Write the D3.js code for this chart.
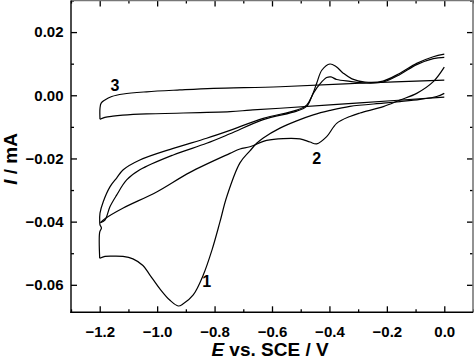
<!DOCTYPE html>
<html>
<head>
<meta charset="utf-8">
<script src="https://cdn.jsdelivr.net/npm/d3@7"></script>
<style>
  html, body { margin: 0; padding: 0; background: #fff; }
  svg { display: block; }
  text { font-family: "Liberation Sans", Arial, sans-serif; font-weight: bold; fill: #000; }
</style>
</head>
<body>
<svg id="chart" width="474" height="360"></svg>
<script>
// ---- Data (E in V vs. SCE, I in mA) ----
const xDomain = [-1.3, 0.1];
const yDomain = [-0.0687, 0.0300];
const xMajorTicks = [-1.2, -1.0, -0.8, -0.6, -0.4, -0.2, 0.0];
const xMinorTicks = [-1.3, -1.1, -0.9, -0.7, -0.5, -0.3, -0.1, 0.1];
const yMajorTicks = [-0.06, -0.04, -0.02, 0.00, 0.02];
const yMinorTicks = [-0.05, -0.03, -0.01, 0.01, 0.03];

// Curve 1: cathodic sweep (0 -> -1.2 V)
const curve1Cathodic = [
  [0.0, 0.0006], [-0.0265, -0.0004], [-0.0846, -0.0013], [-0.1543, -0.0020],
  [-0.2125, -0.0025], [-0.3285, -0.0035], [-0.3981, -0.0048], [-0.4563, -0.0062],
  [-0.5141, -0.0081], [-0.5723, -0.0104], [-0.6304, -0.0135], [-0.6534, -0.0152],
  [-0.6768, -0.0176], [-0.7116, -0.0214], [-0.7579, -0.0322], [-0.7813, -0.0401],
  [-0.8091, -0.0490], [-0.8394, -0.0569], [-0.8743, -0.0632], [-0.9091, -0.0660],
  [-0.9265, -0.0667], [-0.9554, -0.0649], [-0.9903, -0.0613], [-1.0251, -0.0569],
  [-1.0495, -0.0539], [-1.0843, -0.0518], [-1.1191, -0.0510], [-1.1540, -0.0509],
  [-1.1818, -0.0510], [-1.2, -0.0516]
];
// Curve 1: anodic sweep (-1.2 -> 0 V)
const curve1Anodic = [
  [-1.2, -0.0516], [-1.2, -0.0433], [-1.194, -0.0420], [-1.199, -0.0410],
  [-1.2, -0.0401], [-1.199, -0.0373], [-1.1877, -0.0337], [-1.1644, -0.0290],
  [-1.1411, -0.0262], [-1.1181, -0.0236], [-1.0603, -0.0205], [-0.9439, -0.0168],
  [-0.8276, -0.0136], [-0.7464, -0.0111], [-0.6304, -0.0073], [-0.5141, -0.0047],
  [-0.4793, -0.0031], [-0.4608, -0.0002], [-0.4444, 0.0038], [-0.4260, 0.0080],
  [-0.3981, 0.0099], [-0.3772, 0.0091], [-0.3518, 0.0070], [-0.3215, 0.0052],
  [-0.2762, 0.0042], [-0.2135, 0.0045], [-0.1543, 0.0070], [-0.0961, 0.0101],
  [-0.0383, 0.0122], [0.0, 0.0130]
];
// Curve 2: cathodic sweep
const curve2Cathodic = [
  [0.0, 0.0089], [-0.0383, 0.0043], [-0.0961, 0.0006], [-0.1543, -0.0015],
  [-0.2125, -0.0036], [-0.2936, -0.0056], [-0.3285, -0.0067], [-0.3748, -0.0089],
  [-0.4096, -0.0131], [-0.4444, -0.0154], [-0.4678, -0.0148], [-0.5026, -0.0138],
  [-0.5608, -0.0137], [-0.6186, -0.0143], [-0.6768, -0.0163], [-0.7116, -0.0170],
  [-0.7465, -0.0184], [-0.8858, -0.0244], [-1.0017, -0.0306], [-1.1181, -0.0357],
  [-1.1818, -0.0391], [-1.1975, -0.0403]
];
// Curve 2: anodic sweep
const curve2Anodic = [
  [-1.1975, -0.0403], [-1.1818, -0.0395], [-1.1644, -0.0353], [-1.1411, -0.0316],
  [-1.1062, -0.0268], [-1.0603, -0.0236], [-0.9439, -0.0189], [-0.8276, -0.0152],
  [-0.7464, -0.0122], [-0.6304, -0.0077], [-0.5141, -0.0050], [-0.4793, -0.0035],
  [-0.4563, 0.0006], [-0.4330, 0.0036], [-0.4096, 0.0056], [-0.3946, 0.0058],
  [-0.3748, 0.0050], [-0.3285, 0.0044], [-0.2762, 0.0039], [-0.2135, 0.0042],
  [-0.1543, 0.0066], [-0.0961, 0.0097], [-0.0383, 0.0116], [0.0, 0.0120]
];
// Curve 3: cathodic sweep
const curve3Cathodic = [
  [0.0, -0.0006], [-0.294, -0.0024], [-0.572, -0.0041], [-0.676, -0.0047],
  [-0.746, -0.0052], [-1.037, -0.0059], [-1.120, -0.0063], [-1.154, -0.0066],
  [-1.182, -0.0070], [-1.199, -0.0076]
];
// Curve 3: anodic sweep
const curve3Anodic = [
  [-1.199, -0.0076], [-1.199, -0.0041], [-1.195, -0.0025], [-1.182, -0.0015],
  [-1.158, -0.0004], [-1.118, 0.0004], [-1.037, 0.0011], [-0.921, 0.0017],
  [-0.804, 0.0022], [-0.572, 0.0027], [-0.294, 0.0038], [0.0, 0.0048]
];
const curveLabels = ["1", "2", "3"];
const curveLabelPos = [[-0.8276, -0.0589], [-0.444, -0.0199], [-1.147, 0.0033]];

// ---- Layout ----
const svg = d3.select("#chart");
const margin = { left: 71, right: 1, top: 0.5, bottom: 47.7 };
const W = 474, H = 360;
const x = d3.scaleLinear().domain(xDomain).range([margin.left, W - margin.right]);
const y = d3.scaleLinear().domain(yDomain).range([H - margin.bottom, margin.top]);

const fmtX = d3.format(".1f");
const fmtY = d3.format(".2f");

function styleAxis(g) {
  g.select(".domain").remove();
  g.selectAll(".tick line").attr("stroke", "#000").attr("stroke-width", 1.3);
  g.selectAll("text").style("font-size", "15px").style("font-family", '"Liberation Sans", Arial, sans-serif').style("font-weight", "bold");
}

// bottom
svg.append("g").attr("transform", `translate(0,${y.range()[0]})`)
  .call(d3.axisBottom(x).tickValues(xMajorTicks).tickFormat(fmtX).tickSize(-6).tickSizeOuter(0).tickPadding(14))
  .call(styleAxis);
svg.append("g").attr("transform", `translate(0,${y.range()[0]})`)
  .call(d3.axisBottom(x).tickValues(xMinorTicks).tickFormat("").tickSize(-3).tickSizeOuter(0))
  .call(styleAxis);
// top
svg.append("g").attr("transform", `translate(0,${y.range()[1]})`)
  .call(d3.axisTop(x).tickValues(xMajorTicks).tickFormat("").tickSize(-6).tickSizeOuter(0))
  .call(styleAxis);
svg.append("g").attr("transform", `translate(0,${y.range()[1]})`)
  .call(d3.axisTop(x).tickValues(xMinorTicks).tickFormat("").tickSize(-3).tickSizeOuter(0))
  .call(styleAxis);
// left
svg.append("g").attr("transform", `translate(${x.range()[0]},0)`)
  .call(d3.axisLeft(y).tickValues(yMajorTicks).tickFormat(fmtY).tickSize(-6).tickSizeOuter(0).tickPadding(7.5))
  .call(styleAxis);
svg.append("g").attr("transform", `translate(${x.range()[0]},0)`)
  .call(d3.axisLeft(y).tickValues(yMinorTicks).tickFormat("").tickSize(-3).tickSizeOuter(0))
  .call(styleAxis);
// right
svg.append("g").attr("transform", `translate(${x.range()[1]},0)`)
  .call(d3.axisRight(y).tickValues(yMajorTicks).tickFormat("").tickSize(-6).tickSizeOuter(0))
  .call(styleAxis);
svg.append("g").attr("transform", `translate(${x.range()[1]},0)`)
  .call(d3.axisRight(y).tickValues(yMinorTicks).tickFormat("").tickSize(-3).tickSizeOuter(0))
  .call(styleAxis);

// frame
const x0 = x.range()[0], x1 = x.range()[1], y0 = y.range()[0], y1 = y.range()[1];
svg.append("line").attr("x1", x0).attr("x2", x1).attr("y1", y1).attr("y2", y1).attr("stroke", "#777").attr("stroke-width", 1.6);
svg.append("line").attr("x1", x1).attr("x2", x1).attr("y1", y1).attr("y2", y0).attr("stroke", "#777").attr("stroke-width", 1.6);
svg.append("line").attr("x1", x0).attr("x2", x0).attr("y1", y1).attr("y2", y0 + 0.7).attr("stroke", "#000").attr("stroke-width", 1.4);
svg.append("line").attr("x1", x0 - 0.7).attr("x2", x1).attr("y1", y0).attr("y2", y0).attr("stroke", "#000").attr("stroke-width", 1.4);

// curves
const line = d3.line().x(d => x(d[0])).y(d => y(d[1])).curve(d3.curveCatmullRom.alpha(0.5));
const branches = [curve1Cathodic, curve1Anodic, curve2Cathodic, curve2Anodic, curve3Cathodic, curve3Anodic];
svg.append("g").selectAll("path").data(branches).join("path")
  .attr("d", line)
  .attr("fill", "none")
  .attr("stroke", "#000")
  .attr("stroke-width", 1.2)
  .attr("stroke-linejoin", "round");

// curve labels
svg.append("g").selectAll("text").data(curveLabels).join("text")
  .attr("x", (d, i) => x(curveLabelPos[i][0]))
  .attr("y", (d, i) => y(curveLabelPos[i][1]))
  .attr("text-anchor", "middle")
  .attr("dy", "0.36em")
  .style("font-size", "16px")
  .text(d => d);

// axis titles
const xt = svg.append("text").attr("x", 270).attr("y", 356).attr("text-anchor", "middle").style("font-size", "19px");
xt.append("tspan").style("font-style", "italic").text("E");
xt.append("tspan").text(" vs. SCE / V");

const yt = svg.append("text").attr("transform", "translate(17,159) rotate(-90)").attr("text-anchor", "middle").style("font-size", "19px");
yt.append("tspan").style("font-style", "italic").text("I");
yt.append("tspan").text(" / mA");
</script>
</body>
</html>
